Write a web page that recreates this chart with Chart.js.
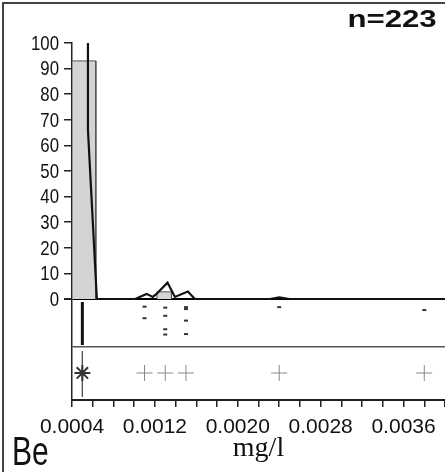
<!DOCTYPE html>
<html>
<head>
<meta charset="utf-8">
<script src="https://cdn.jsdelivr.net/npm/chart.js@4"></script>
<style>
html, body { margin: 0; padding: 0; background: #fff; }
#wrap { position: relative; width: 445px; height: 472px; overflow: hidden; background: #fff; }
#frame { position: absolute; left: 2px; top: 2px; right: -10px; bottom: -10px; border-left: 2px solid #444; border-top: 2px solid #444; }
canvas { position: absolute; left: 0; top: 0; }
.lbl { position: absolute; color: #111; line-height: 1; white-space: nowrap; font-family: 'Liberation Sans', Arial, sans-serif; }
#n { right: 8px; top: 7px; font-weight: bold; font-size: 24px; transform: scaleX(1.3); transform-origin: right center; }
#el { left: 12px; top: 431px; font-size: 40px; transform: scaleX(0.75); transform-origin: left center; }
</style>
</head>
<body>
<div id="wrap">
  <canvas id="c" width="445" height="472"></canvas>
  <div id="frame"></div>
  <div class="lbl" id="n">n=223</div>
  <div class="lbl" id="el">Be</div>
</div>
<script>
// x axis (mg/l)
const xMin = 0.0004, xMax = 0.004, xStep = 0.0002;
const xTickLabels = ['0.0004', '0.0012', '0.0020', '0.0028', '0.0036'];
const yTickLabels = [0, 10, 20, 30, 40, 50, 60, 70, 80, 90, 100];

// histogram bins (percent)
const binStart = [0.0004, 0.00122];
const binEnd = [0.00063, 0.00136];
const binPct = [93, 2.8];

// frequency line
const lineX = [0.000554, 0.000554, 0.00064, 0.00101, 0.00112, 0.00118, 0.00121, 0.001322, 0.001393, 0.001518, 0.001586, 0.00231, 0.0024, 0.0025, 0.004];
const lineY = [100, 66, 0, 0, 2, 0.8, 1.8, 6.4, 0.8, 2.9, 0, 0, 0.6, 0, 0];

// strip plot (values, jitter inside the strip 0..1 from top)
const dotX = [0.0011, 0.0011, 0.0013, 0.0013, 0.0013, 0.0013, 0.0015, 0.0015, 0.0015, 0.0015, 0.0024, 0.0038];
const dotJit = [0.16, 0.40, 0.18, 0.35, 0.63, 0.74, 0.17, 0.21, 0.45, 0.73, 0.17, 0.23];
const massX = 0.0005;            // most samples sit here
const massJit = [0.06, 0.96];

// box plot row
const medianX = 0.0005;
const outlierX = [0.0011, 0.0013, 0.0015, 0.0024, 0.0038];

// panel bands on the y scale (below the 0 line)
const yMin = -39.45;
const stripBand = [0, -18.75];
const boxBand = [-18.75, yMin];
const inBand = (band, f) => band[0] + (band[1] - band[0]) * f;

const datasets = [];
datasets.push({
    type: 'line', data: lineX.map((x, i) => ({x: x, y: lineY[i]})),
    borderColor: '#111', borderWidth: 2.2, pointRadius: 0, tension: 0, fill: false, order: 1
});
binPct.forEach((h, i) => {
    datasets.push({
        type: 'line',
        data: [{x: binStart[i], y: 0}, {x: binStart[i], y: h}, {x: binEnd[i], y: h}, {x: binEnd[i], y: 0}],
        borderColor: '#555', borderWidth: 1, backgroundColor: '#d4d4d4',
        pointRadius: 0, tension: 0, fill: 'origin', order: 5
    });
});
datasets.push({
    type: 'line', data: massJit.map(f => ({x: massX, y: inBand(stripBand, f)})),
    borderColor: '#111', borderWidth: 3, pointRadius: 0, fill: false, order: 2
});
datasets.push({
    type: 'scatter', data: dotX.map((x, i) => ({x: x, y: inBand(stripBand, dotJit[i])})),
    pointStyle: 'line', pointRadius: 2, borderColor: '#333', borderWidth: 2, order: 2
});
datasets.push({
    type: 'line', data: [{x: medianX, y: inBand(boxBand, 0.08)}, {x: medianX, y: inBand(boxBand, 0.94)}],
    borderColor: '#555', borderWidth: 1, pointRadius: 0, fill: false, order: 3
});
datasets.push({
    type: 'scatter', data: [{x: medianX, y: inBand(boxBand, 0.49)}],
    pointStyle: 'star', pointRadius: 8, borderColor: '#333', borderWidth: 2, order: 2
});
datasets.push({
    type: 'scatter', data: outlierX.map(x => ({x: x, y: inBand(boxBand, 0.49)})),
    pointStyle: 'cross', pointRadius: 8, borderColor: '#888', borderWidth: 1, order: 2
});

// y labels in the original are set in a condensed face: squeeze them
const narrowLabels = {
    id: 'narrowLabels',
    afterDraw(chart) {
        const s = chart.scales.y, ctx = chart.ctx;
        ctx.save();
        ctx.fillStyle = '#111';
        ctx.font = "21px 'Liberation Sans', Arial, sans-serif";
        ctx.textAlign = 'right';
        ctx.textBaseline = 'middle';
        yTickLabels.forEach(v => {
            ctx.save();
            ctx.translate(s.right - 13, s.getPixelForValue(v) + 1);
            ctx.scale(0.8, 1);
            ctx.fillText(String(v), 0, 0);
            ctx.restore();
        });
        ctx.restore();
    }
};

new Chart(document.getElementById('c'), {
    type: 'line',
    data: { datasets: datasets },
    plugins: [narrowLabels],
    options: {
        responsive: false,
        animation: false,
        devicePixelRatio: 1,
        layout: { autoPadding: false, padding: { top: 43, left: 0, right: 0, bottom: 0 } },
        plugins: { legend: { display: false }, tooltip: { enabled: false } },
        scales: {
            x: {
                type: 'linear', min: xMin, max: xMax,
                afterBuildTicks: s => {
                    const t = [];
                    for (let v = xMin; v <= xMax + 1e-9; v += xStep) t.push({value: +v.toFixed(4)});
                    s.ticks = t;
                },
                afterFit: s => { s.height = 72; s.paddingRight = 0; s.paddingLeft = 0; },
                ticks: {
                    autoSkip: false, maxRotation: 0, padding: 8, color: '#111',
                    font: { family: "'Liberation Sans', Arial, sans-serif", size: 21 },
                    callback: v => xTickLabels.find(l => Math.abs(parseFloat(l) - v) < 1e-9) || ''
                },
                grid: { drawOnChartArea: false, tickLength: 7, tickColor: '#222', lineWidth: 1.5 },
                border: { color: '#222', width: 2 },
                title: {
                    display: true, text: 'mg/l', color: '#111', padding: { top: 0, bottom: 7 },
                    font: { family: "'Liberation Serif', 'Times New Roman', serif", size: 28 }
                }
            },
            y: {
                type: 'linear', min: yMin, max: 100,
                afterBuildTicks: s => {
                    s.ticks = [{value: stripBand[1]}].concat(yTickLabels.map(v => ({value: v})));
                },
                afterFit: s => { s.width = 72; s.paddingTop = 0; s.paddingBottom = 0; },
                ticks: { display: false },
                grid: {
                    tickLength: 8,
                    color: c => c.tick && c.tick.value === 0 ? '#000' : (c.tick && c.tick.value < 0 ? '#555' : 'rgba(0,0,0,0)'),
                    lineWidth: c => c.tick && c.tick.value === 0 ? 2 : 1.5,
                    tickColor: c => c.tick && c.tick.value >= 0 ? '#222' : 'rgba(0,0,0,0)'
                },
                border: { color: '#222', width: 1.5 }
            }
        }
    }
});
</script>
</body>
</html>
